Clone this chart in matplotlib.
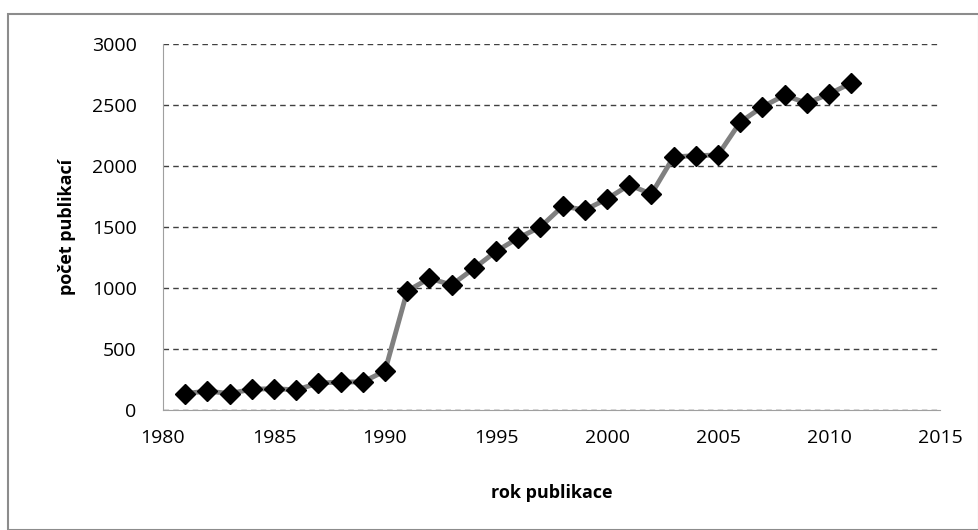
import matplotlib
matplotlib.use("Agg")
import matplotlib.pyplot as plt
from matplotlib.patches import Rectangle

years = list(range(1981, 2012))
publications = [135, 155, 135, 170, 175, 165, 220, 230, 230, 320,
                975, 1080, 1025, 1160, 1300, 1410, 1500, 1670, 1640, 1730,
                1845, 1770, 2075, 2085, 2090, 2360, 2485, 2580, 2515, 2590,
                2680]
x_ticks = [1980, 1985, 1990, 1995, 2000, 2005, 2010, 2015]
y_ticks = [0, 500, 1000, 1500, 2000, 2500, 3000]

plt.rcParams["font.family"] = ["Open Sans", "DejaVu Sans"]

fig = plt.figure(figsize=(9.79, 5.30), dpi=100)
fig.patches.append(Rectangle((8 / 979, 0), 1 - 8 / 979, 1 - 14 / 530, transform=fig.transFigure,
                             fill=False, edgecolor="#8c8c8c", linewidth=1.5))

ax = fig.add_axes([163 / 979, 1 - 410 / 530, (940 - 163) / 979, (410 - 44) / 530])
ax.plot(years, publications, color="#808080", linewidth=3.5, marker="D", markersize=10.5,
        markerfacecolor="black", markeredgecolor="black", zorder=3)

ax.set_xlim(1980, 2015)
ax.set_ylim(0, 3000)
ax.set_xticks(x_ticks)
ax.set_yticks(y_ticks)
ax.tick_params(length=0, labelsize=14)
ax.tick_params(axis="y", pad=19)
ax.tick_params(axis="x", pad=14)
ax.yaxis.grid(True, linestyle=(0, (4, 3)), color="#404040", linewidth=1)
ax.set_axisbelow(True)
for side in ("top", "right"):
    ax.spines[side].set_visible(False)
for side in ("left", "bottom"):
    ax.spines[side].set_color("#a0a0a0")

ax.set_xlabel("rok publikace", fontsize=13, fontweight="bold", labelpad=26)
ax.set_ylabel("počet publikací", fontsize=13, fontweight="bold", labelpad=11)

fig.savefig("out.png", dpi=100)
